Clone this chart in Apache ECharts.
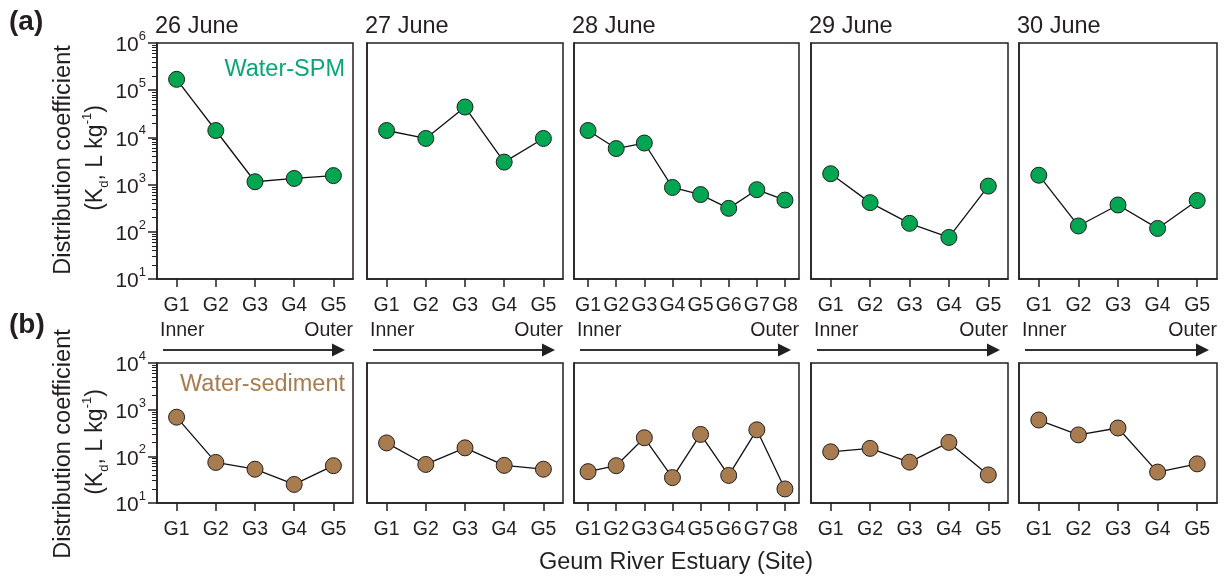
<!DOCTYPE html>
<html>
<head>
<meta charset="utf-8">
<script src="https://cdn.jsdelivr.net/npm/echarts@6/dist/echarts.min.js"></script>
<style>
  html, body { margin: 0; padding: 0; background: #fff; }
  #main { width: 1227px; height: 577px; }
</style>
</head>
<body>
<div id="main"></div>
<script>
// 日期 / 站点
const dates = ['26 June', '27 June', '28 June', '29 June', '30 June']
const sites5 = ['G1', 'G2', 'G3', 'G4', 'G5']
const sites8 = ['G1', 'G2', 'G3', 'G4', 'G5', 'G6', 'G7', 'G8']
const siteLists = [sites5, sites5, sites8, sites5, sites5]

// (a) Water-SPM Kd
const spm26 = [170000, 14000, 1150, 1350, 1550]
const spm27 = [14000, 9500, 44000, 3000, 9500]
const spm28 = [14000, 5800, 7600, 870, 615, 314, 780, 470]
const spm29 = [1700, 415, 151, 76, 930]
const spm30 = [1580, 133, 370, 118, 460]

// (b) Water-sediment Kd
const sed26 = [690, 74, 53, 25, 63]
const sed27 = [194, 67, 152, 64, 53]
const sed28 = [47, 63, 250, 35, 295, 39, 370, 20]
const sed29 = [125, 148, 75, 199, 40]
const sed30 = [600, 288, 405, 46, 69]

const spmData = [spm26, spm27, spm28, spm29, spm30]
const sedData = [sed26, sed27, sed28, sed29, sed30]

// y轴刻度 (10^n)
const topExps = [1, 2, 3, 4, 5, 6]
const bottomExps = [1, 2, 3, 4]
const minorMults = [2, 3, 4, 5, 6, 7, 8, 9]

const FONT = '"Liberation Sans", Arial, sans-serif'
const INK = '#231f20'
const GREEN = '#00a651'
const GREEN_TEXT = '#0aa677'
const BROWN = '#a97c50'

// 版面
const colLeft = [157, 367, 574, 811, 1019]
const colWidth = [196, 196, 225, 197, 198]
const rows = [
    { top: 43, height: 236, exps: topExps, data: spmData, color: GREEN },
    { top: 363, height: 140, exps: bottomExps, data: sedData, color: BROWN }
]

function minorExps(exps) {
    const out = []
    exps.slice(0, -1).forEach(e => {
        minorMults.forEach(m => out.push(Math.log10(m) + e))
    })
    return out
}

const grid = []
const xAxis = []
const yAxis = []
const series = []

rows.forEach((row, r) => {
    dates.forEach((d, c) => {
        const gi = grid.length
        grid.push({
            left: colLeft[c],
            top: row.top,
            width: colWidth[c],
            height: row.height,
            show: true,
            borderColor: INK,
            borderWidth: 1.5,
            backgroundColor: 'transparent'
        })
        xAxis.push({
            gridIndex: gi,
            type: 'category',
            data: siteLists[c],
            boundaryGap: true,
            axisLine: { show: true, lineStyle: { color: INK, width: 1.5 } },
            axisTick: { show: true, alignWithLabel: true, length: 8, lineStyle: { color: INK, width: 1.5 } },
            axisLabel: { interval: 0, color: INK, fontSize: 19.5, fontFamily: FONT, margin: 17 },
            splitLine: { show: false }
        })
        const first = c === 0
        const lo = row.exps[0]
        const hi = row.exps[row.exps.length - 1]
        const yi = yAxis.length
        yAxis.push({
            gridIndex: gi,
            type: 'log',
            logBase: 10,
            min: Math.pow(10, lo),
            max: Math.pow(10, hi),
            position: 'left',
            axisLine: { show: true, lineStyle: { color: INK, width: 1.5 } },
            axisTick: { show: first, length: 9, lineStyle: { color: INK, width: 1.5 } },
            axisLabel: {
                show: first,
                margin: 11,
                color: INK,
                fontFamily: FONT,
                formatter: v => '{b|10}{s|' + Math.round(Math.log10(v)) + '}',
                rich: {
                    b: { fontSize: 21, fontFamily: FONT, color: INK, lineHeight: 26, verticalAlign: 'bottom' },
                    s: { fontSize: 13, fontFamily: FONT, color: INK, verticalAlign: 'top' }
                }
            },
            splitLine: { show: false }
        })
        if (first) {
            // 次刻度 (2..9 x 10^n)
            yAxis.push({
                gridIndex: gi,
                type: 'value',
                min: lo,
                max: hi,
                position: 'left',
                axisLine: { show: false },
                axisTick: { show: true, length: 5, customValues: minorExps(row.exps), lineStyle: { color: INK, width: 1 } },
                axisLabel: { show: false },
                splitLine: { show: false }
            })
        }
        series.push({
            type: 'line',
            xAxisIndex: gi,
            yAxisIndex: yi,
            data: row.data[c],
            symbol: 'circle',
            symbolSize: 16,
            itemStyle: { color: row.color, borderColor: INK, borderWidth: 1 },
            lineStyle: { color: '#111', width: 1.3 },
            emphasis: { disabled: true },
            z: 3
        })
    })
})

// 文字和箭头
const graphic = []
const subRich = {
    m: { fontSize: 23, fontFamily: FONT, fill: INK, lineHeight: 30 },
    d: { fontSize: 13, fontFamily: FONT, fill: INK, verticalAlign: 'bottom' },
    u: { fontSize: 13, fontFamily: FONT, fill: INK, verticalAlign: 'top' }
}
function yName(cx, cy) {
    graphic.push({
        type: 'text', x: cx - 32, y: cy, rotation: Math.PI / 2,
        style: { text: 'Distribution coefficient', fontSize: 23.5, fontFamily: FONT, fill: INK, align: 'center', verticalAlign: 'middle' }
    })
    graphic.push({
        type: 'text', x: cx, y: cy - 2, rotation: Math.PI / 2,
        style: { text: '{m|(K}{d|d}{m|, L kg}{u|-1}{m|)}', rich: subRich, align: 'center', verticalAlign: 'middle' }
    })
}
yName(96, 160)
yName(96, 444)

graphic.push({ type: 'text', x: 9, y: 22, style: { text: '(a)', fontSize: 28, fontWeight: 'bold', fontFamily: FONT, fill: INK, verticalAlign: 'middle' } })
graphic.push({ type: 'text', x: 9, y: 325, style: { text: '(b)', fontSize: 28, fontWeight: 'bold', fontFamily: FONT, fill: INK, verticalAlign: 'middle' } })

dates.forEach((d, c) => {
    const left = colLeft[c]
    const right = colLeft[c] + colWidth[c]
    graphic.push({ type: 'text', x: left - 2, y: 27, style: { text: d, fontSize: 23.5, fontFamily: FONT, fill: INK, verticalAlign: 'middle' } })
    graphic.push({ type: 'text', x: left + 3, y: 331, style: { text: 'Inner', fontSize: 19.5, fontFamily: FONT, fill: INK, verticalAlign: 'middle' } })
    graphic.push({ type: 'text', x: right, y: 331, style: { text: 'Outer', fontSize: 19.5, fontFamily: FONT, fill: INK, align: 'right', verticalAlign: 'middle' } })
    graphic.push({ type: 'line', shape: { x1: left + 6, y1: 350, x2: right - 18, y2: 350 }, style: { stroke: '#333', lineWidth: 2 } })
    graphic.push({ type: 'polygon', shape: { points: [[right - 21, 343.5], [right - 8, 350], [right - 21, 356.5]] }, style: { fill: INK } })
})

graphic.push({ type: 'text', x: 345, y: 70, style: { text: 'Water-SPM', fontSize: 23.5, fontFamily: FONT, fill: GREEN_TEXT, align: 'right', verticalAlign: 'middle' } })
graphic.push({ type: 'text', x: 345, y: 385, style: { text: 'Water-sediment', fontSize: 23.5, fontFamily: FONT, fill: BROWN, align: 'right', verticalAlign: 'middle' } })
graphic.push({ type: 'text', x: 676, y: 563, style: { text: 'Geum River Estuary (Site)', fontSize: 23.5, fontFamily: FONT, fill: INK, align: 'center', verticalAlign: 'middle' } })

const myChart = echarts.init(document.querySelector('#main'))
myChart.setOption({
    animation: false,
    backgroundColor: '#fff',
    grid,
    xAxis,
    yAxis,
    series,
    graphic
})
window.addEventListener('resize', function () {
    myChart.resize()
})
</script>
</body>
</html>
